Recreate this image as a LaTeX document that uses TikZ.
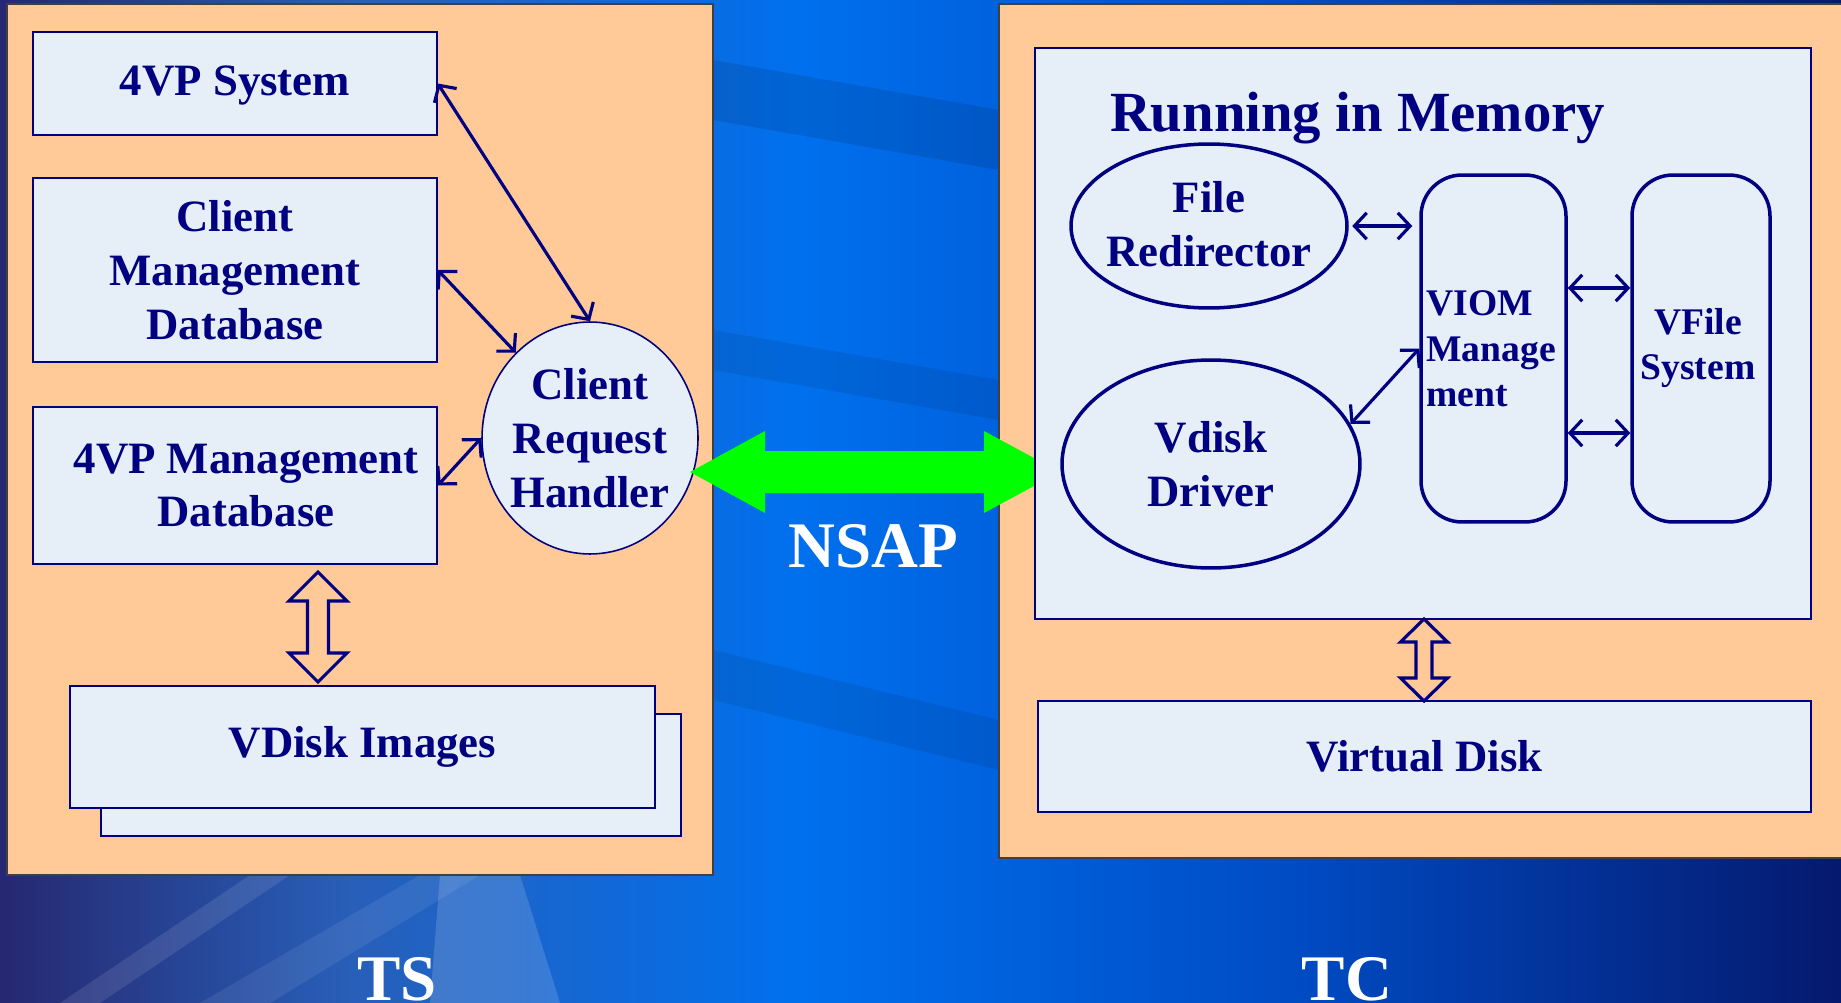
\documentclass[tikz,border=0pt]{standalone}
\usepackage{fontspec}
\setmainfont{Liberation Serif}
\usetikzlibrary{arrows.meta,calc,shapes.geometric}
\definecolor{tnavy}{RGB}{0,0,128}
\definecolor{panel}{RGB}{255,202,152}
\definecolor{boxfill}{RGB}{230,238,248}
\definecolor{bgA}{RGB}{38,40,112}
\definecolor{bgB}{RGB}{40,95,185}
\definecolor{bgC}{RGB}{0,112,238}
\definecolor{bgD}{RGB}{0,75,195}
\definecolor{bgE}{RGB}{5,25,110}
\definecolor{nsapgreen}{RGB}{0,255,0}
\newcommand\mybigf{\fontsize{25.5}{30.6}\selectfont\bfseries}
\newcommand\mymidf{\fontsize{21.4}{26}\selectfont\bfseries}
\newcommand\mytitf{\fontsize{32.3}{38}\selectfont\bfseries}
\newcommand\myhugef{\fontsize{37}{42}\selectfont\bfseries}
\begin{document}
\begin{tikzpicture}[x=0.02cm,y=-0.02cm,
  box/.style={draw=tnavy, line width=0.9pt, fill=boxfill, text=tnavy, font=\mybigf, align=center, inner sep=0pt},
  oval/.style={ellipse, draw=tnavy, fill=boxfill, inner sep=0pt},
  txt/.style={text=tnavy, font=\mybigf, align=center, inner sep=0pt},
  smalltxt/.style={text=tnavy, font=\mymidf, inner sep=0pt},
  pill/.style={draw=tnavy, line width=2pt, fill=boxfill, rounded corners=0.82cm, inner sep=0pt},
  link/.style={draw=tnavy, line width=1.8pt, {Straight Barb[length=7pt,width=15pt]}-{Straight Barb[length=7pt,width=15pt]}},
  hollow/.style={draw=tnavy, line width=1.8pt, fill=panel, line join=miter},
  panelbox/.style={draw=black!75, line width=0.6pt, fill=panel},
  whitelabel/.style={text=white, font=\myhugef, inner sep=0pt, anchor=base}]
\useasboundingbox (0,0) rectangle (1841,1003);
% background
\shade[left color=bgA, right color=bgB] (0,0) rectangle (351,1003);
\shade[left color=bgB, right color=bgC] (350,0) rectangle (801,1003);
\shade[left color=bgC, right color=bgD] (800,0) rectangle (1301,1003);
\shade[left color=bgD, right color=bgE] (1300,0) rectangle (1841,1003);
\fill[black, opacity=0.10] (713,60) -- (999,110) -- (999,170) -- (713,120) -- cycle;
\fill[black, opacity=0.08] (713,330) -- (999,380) -- (999,420) -- (713,370) -- cycle;
\fill[black, opacity=0.08] (713,650) -- (999,720) -- (999,770) -- (713,700) -- cycle;
\fill[white, opacity=0.10] (60,1003) -- (250,875) -- (290,875) -- (100,1003) -- cycle;
\fill[white, opacity=0.08] (200,1003) -- (420,875) -- (480,875) -- (270,1003) -- cycle;
\fill[white, opacity=0.15] (430,1003) -- (440,875) -- (520,875) -- (560,1003) -- cycle;
% panels
\path[panelbox] (7,4) rectangle (713,875);
\path[panelbox] (999,4) rectangle (1850,858);
% left side
\node[box, minimum width=8.08cm, minimum height=2.06cm] (sys) at (235,83.5) {};
\node[txt] (sysT) at (235,86) {4VP System};
\node[box, minimum width=8.08cm, minimum height=3.68cm] (cmd) at (235,270) {Client\\Management\\Database};
\node[box, minimum width=8.08cm, minimum height=3.14cm] (vpm) at (235,485.5) {};
\node[txt] (vpmT) at (246,485.5) {4VP Management\\Database};
\node[oval, line width=0.9pt, minimum width=4.32cm, minimum height=4.64cm] (crh) at (590,438) {};
\node[txt] (crhT) at (590,438) {Client\\Request\\Handler};
\node[box, minimum width=11.6cm, minimum height=2.44cm] (vdb) at (391,775) {};
\node[box, minimum width=11.7cm, minimum height=2.44cm] (vdi) at (362.5,747) {VDisk Images};
\draw[link] (sys.east) -- (crh.north);
\draw[link] (cmd.east) -- (crh.131);
\draw[link] (vpm.east) -- (crh.west);
\path[hollow] (318,572) -- (347,601) -- (328.5,601) -- (328.5,653) -- (347,653) -- (318,682)
  -- (289,653) -- (307.5,653) -- (307.5,601) -- (289,601) -- cycle;
\node[whitelabel] (ts) at (397,1000) {TS};
% NSAP arrow
\fill[nsapgreen] (690,472) -- (765,431) -- (765,451) -- (984,451) -- (984,431) -- (1060,472)
  -- (984,513) -- (984,493) -- (765,493) -- (765,513) -- cycle;
\node[whitelabel] (nsap) at (873,567) {NSAP};
% right side
\node[draw=tnavy, line width=0.7pt, fill=boxfill, minimum width=15.52cm, minimum height=11.42cm] (mem) at (1423,333.5) {};
\node[text=tnavy, font=\mytitf, anchor=base, inner sep=0pt] (title) at (1357.5,132) {Running in Memory};
\node[oval, line width=2pt, minimum width=5.52cm, minimum height=3.28cm] (fr) at (1209,226) {};
\node[txt] (frT) at (1209,224) {File\\Redirector};
\node[oval, line width=2pt, minimum width=5.96cm, minimum height=4.16cm] (vd) at (1211,464) {};
\node[txt] (vdT) at (1211,464) {Vdisk\\Driver};
\node[pill, minimum width=2.9cm, minimum height=6.94cm] (viom) at (1493.5,348.5) {};
\node[smalltxt, align=left, anchor=west] (viomT) at (1426,349) {VIOM\\Manage\\ment};
\node[pill, minimum width=2.76cm, minimum height=6.94cm] (vfs) at (1701,348.5) {};
\node[smalltxt, align=center] (vfsT) at (1698,348) {VFile\\System};
\draw[link, shorten <=2pt, shorten >=4pt] (fr.east) -- (fr.east -| viom.west);
\draw[link] (vd.16) -- (viom.west);
\draw[link] ([yshift=1.21cm]viom.east) -- ([yshift=1.21cm]viom.east -| vfs.west);
\draw[link] ([yshift=-1.69cm]viom.east) -- ([yshift=-1.69cm]viom.east -| vfs.west);
\node[box, minimum width=15.46cm, minimum height=2.22cm] (vdisk) at (1424.5,756.5) {Virtual Disk};
\path[hollow] (1424,619) -- (1447.5,642) -- (1432,642) -- (1432,678) -- (1447.5,678) -- (1424,701)
  -- (1400.5,678) -- (1416,678) -- (1416,642) -- (1400.5,642) -- cycle;
\node[whitelabel] (tc) at (1347,1000) {TC};
\end{tikzpicture}
\end{document}
